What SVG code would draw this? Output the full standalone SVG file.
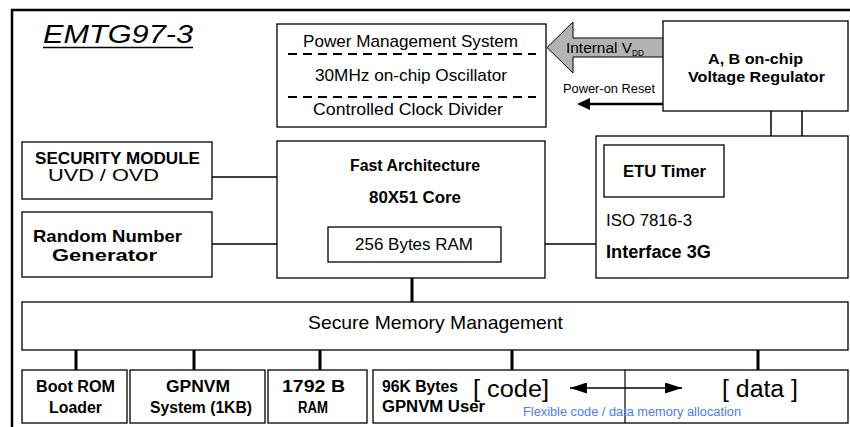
<svg xmlns="http://www.w3.org/2000/svg" width="850" height="427" viewBox="0 0 850 427">
<defs>
<style>
text{font-family:"Liberation Sans",Arial,sans-serif;fill:#000}
.box{fill:#fff;stroke:#000;stroke-width:1.3}
.b{font-weight:bold}
.ln{stroke:#000;stroke-width:1.5;fill:none}
.th{stroke:#000;stroke-width:3;fill:none}
</style>
<marker id="ah2" viewBox="0 0 17 11" refX="17" refY="5.5" markerWidth="17" markerHeight="11" markerUnits="userSpaceOnUse" orient="auto-start-reverse"><path d="M0,0 L17,5.5 L0,11 Z" fill="#000"/></marker>
</defs>
<rect width="850" height="427" fill="#fff"/>
<path d="M12,427 V10 H850" stroke="#000" stroke-width="2.5" fill="none"/>
<text x="43" y="43" font-size="26" font-style="italic" textLength="150" lengthAdjust="spacingAndGlyphs">EMTG97-3</text>
<path d="M43,47.5 H193" stroke="#000" stroke-width="1.5"/>

<g id="connectors">
<path class="ln" d="M212,177 H277"/>
<path class="ln" d="M212,244 H277"/>
<path class="ln" d="M545,244 H596"/>
<path class="ln" d="M771,111 V136 M802,111 V136"/>
<path class="th" d="M412,278 V302"/>
<path class="th" d="M76,350 V370 M194,350 V370 M320,350 V370 M512,350 V370 M758,350 V370"/>
<path d="M663,38 H573 V22 L547,47.5 L573,73 V57 H663" fill="#b3b3b3" stroke="#000" stroke-width="1"/>
<text x="566" y="53" font-size="14" textLength="66" lengthAdjust="spacingAndGlyphs">Internal V</text>
<text x="632" y="56" font-size="9" textLength="12" lengthAdjust="spacingAndGlyphs">DD</text>
<path d="M663,104 H588" stroke="#000" stroke-width="2.5"/>
<path d="M590,98 L577,104 L590,110 Z" fill="#000"/>
<text x="563" y="93" font-size="12.5" textLength="92" lengthAdjust="spacingAndGlyphs">Power-on Reset</text>
</g>

<g id="power">
<rect class="box" x="277" y="24" width="269" height="103"/>
<path d="M288,54 H536 M288,97 H536" stroke="#000" stroke-width="2" stroke-dasharray="9,6"/>
<text x="303" y="47" font-size="17" textLength="215" lengthAdjust="spacingAndGlyphs">Power Management System</text>
<text x="315" y="81" font-size="17" textLength="192" lengthAdjust="spacingAndGlyphs">30MHz on-chip Oscillator</text>
<text x="313" y="115" font-size="17" textLength="190" lengthAdjust="spacingAndGlyphs">Controlled Clock Divider</text>
</g>

<g id="regulator">
<rect class="box" x="663" y="21" width="185" height="90"/>
<text class="b" x="708" y="64" font-size="15" textLength="95" lengthAdjust="spacingAndGlyphs">A, B on-chip</text>
<text class="b" x="688" y="82" font-size="15" textLength="137" lengthAdjust="spacingAndGlyphs">Voltage Regulator</text>
</g>

<g id="security">
<rect class="box" x="22" y="142" width="190" height="57"/>
<text class="b" x="35" y="164" font-size="17" textLength="165" lengthAdjust="spacingAndGlyphs">SECURITY MODULE</text>
<text x="48" y="181" font-size="16" textLength="111" lengthAdjust="spacingAndGlyphs">UVD / OVD</text>
</g>

<g id="rng">
<rect class="box" x="22" y="212" width="190" height="65"/>
<text class="b" x="33" y="242" font-size="17" textLength="149" lengthAdjust="spacingAndGlyphs">Random Number</text>
<text class="b" x="52" y="261" font-size="17" textLength="105" lengthAdjust="spacingAndGlyphs">Generator</text>
</g>

<g id="core">
<rect class="box" x="277" y="141" width="268" height="137"/>
<text class="b" x="350" y="171" font-size="16" textLength="130" lengthAdjust="spacingAndGlyphs">Fast Architecture</text>
<text class="b" x="369" y="203" font-size="16" textLength="92" lengthAdjust="spacingAndGlyphs">80X51 Core</text>
<rect class="box" x="328" y="227" width="173" height="35"/>
<text x="355" y="250" font-size="17" textLength="118" lengthAdjust="spacingAndGlyphs">256 Bytes RAM</text>
</g>

<g id="interface">
<rect class="box" x="596" y="136" width="252" height="142"/>
<rect class="box" x="604" y="145" width="120" height="52"/>
<text class="b" x="623" y="177" font-size="16" textLength="83" lengthAdjust="spacingAndGlyphs">ETU Timer</text>
<text x="606" y="226" font-size="16" textLength="86" lengthAdjust="spacingAndGlyphs">ISO 7816-3</text>
<text class="b" x="606" y="258" font-size="18" textLength="105" lengthAdjust="spacingAndGlyphs">Interface 3G</text>
</g>

<g id="smm">
<rect class="box" x="22" y="302" width="826" height="48"/>
<text x="308" y="329" font-size="19" textLength="255" lengthAdjust="spacingAndGlyphs">Secure Memory Management</text>
</g>

<g id="bootrom">
<rect class="box" x="22" y="370" width="105" height="53"/>
<text class="b" x="36" y="392" font-size="16" textLength="79" lengthAdjust="spacingAndGlyphs">Boot ROM</text>
<text class="b" x="49" y="413" font-size="16" textLength="53" lengthAdjust="spacingAndGlyphs">Loader</text>
</g>

<g id="gpnvmsys">
<rect class="box" x="130" y="370" width="135" height="53"/>
<text class="b" x="166" y="392" font-size="16" textLength="64" lengthAdjust="spacingAndGlyphs">GPNVM</text>
<text class="b" x="150" y="413" font-size="16" textLength="102" lengthAdjust="spacingAndGlyphs">System (1KB)</text>
</g>

<g id="ram1792">
<rect class="box" x="268" y="370" width="99" height="53"/>
<text class="b" x="282" y="392" font-size="16" textLength="63" lengthAdjust="spacingAndGlyphs">1792 B</text>
<text class="b" x="298" y="413" font-size="16" textLength="30" lengthAdjust="spacingAndGlyphs">RAM</text>
</g>

<g id="gpnvmuser">
<rect class="box" x="373" y="370" width="475" height="53"/>
<path d="M625,370 V423" stroke="#000" stroke-width="1.2"/>
<text class="b" x="382" y="392" font-size="16" textLength="76" lengthAdjust="spacingAndGlyphs">96K Bytes</text>
<text class="b" x="382" y="412" font-size="16" textLength="103" lengthAdjust="spacingAndGlyphs">GPNVM User</text>
<text x="473" y="397" font-size="23" textLength="76" lengthAdjust="spacingAndGlyphs">[ code]</text>
<text x="722" y="397" font-size="23" textLength="76" lengthAdjust="spacingAndGlyphs">[ data ]</text>
<path d="M570,388 H682" stroke="#000" stroke-width="1.5" marker-start="url(#ah2)" marker-end="url(#ah2)"/>
<text x="523" y="416" font-size="12" style="fill:#4a7cf0" textLength="218" lengthAdjust="spacingAndGlyphs">Flexible code / data memory allocation</text>
</g>
</svg>
